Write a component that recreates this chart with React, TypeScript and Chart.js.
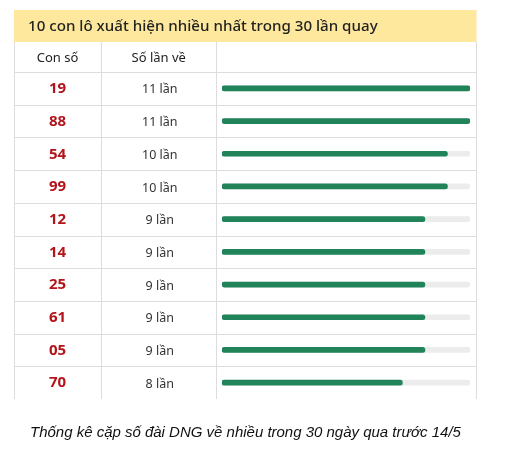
import React, { useEffect, useRef } from "react";
import { Chart, registerables } from "chart.js";

Chart.register(...registerables);

const numbers = ["19", "88", "54", "99", "12", "14", "25", "61", "05", "70"];
const counts = [11, 11, 10, 10, 9, 9, 9, 9, 9, 8];
const maxCount = 11;
const titleText = "10 con lô xuất hiện nhiều nhất trong 30 lần quay";
const colHeaders = ["Con số", "Số lần về"];
const unitText = "lần";
const captionText = "Thống kê cặp số đài DNG về nhiều trong 30 ngày qua trước 14/5";

const W = 508;
const H = 451;

function fitFont(ctx: CanvasRenderingContext2D, text: string, target: number, style: string, family: string, base: number) {
  ctx.font = `${style} ${base}px ${family}`;
  const w = ctx.measureText(text).width;
  const size = (base * target) / w;
  return `${style} ${size.toFixed(2)}px ${family}`;
}

const tablePlugin = {
  id: "tablePlugin",
  beforeDatasetsDraw(chart: any) {
    const { ctx, scales } = chart;
    const y = scales.y;
    const L = 14, R = 476.5, C1 = 101, C2 = 216.5;
    const headTop = 10, headBot = 42, hdrBot = 72;
    const area = chart.chartArea;
    const tableBot = area.bottom;
    ctx.save();
    // yellow title band
    ctx.fillStyle = "#fde89d";
    ctx.fillRect(L, headTop, R - L, headBot - headTop);
    ctx.fillStyle = "#222222";
    ctx.textBaseline = "middle";
    ctx.textAlign = "left";
    ctx.font = fitFont(ctx, titleText, 350, "500", "'Noto Sans'", 15);
    ctx.fillText(titleText, 28, 27);
    // grid
    ctx.strokeStyle = "#dddddd";
    ctx.lineWidth = 1;
    ctx.beginPath();
    [L + 0.5, C1 + 0.5, C2, R].forEach((x) => {
      ctx.moveTo(x, headBot);
      ctx.lineTo(x, tableBot);
    });
    ctx.moveTo(L, hdrBot + 0.5);
    ctx.lineTo(R, hdrBot + 0.5);
    const band = (tableBot - hdrBot) / numbers.length;
    for (let i = 1; i < numbers.length; i++) {
      const yy = Math.round(hdrBot + band * i) + 0.5;
      ctx.moveTo(L, yy);
      ctx.lineTo(R, yy);
    }
    ctx.stroke();
    // header row
    ctx.textAlign = "center";
    ctx.fillStyle = "#222222";
    ctx.font = "13px 'Noto Sans'";
    ctx.fillText(colHeaders[0], (L + C1) / 2, 58);
    ctx.fillText(colHeaders[1], (C1 + C2) / 2, 58);
    // rows
    numbers.forEach((n, i) => {
      const py = y.getPixelForValue(i) + 0.5;
      ctx.fillStyle = "#b3141b";
      ctx.font = "bold 15px 'Noto Sans'";
      ctx.fillText(n, (L + C1) / 2, py);
      ctx.fillStyle = "#333333";
      ctx.font = "12.5px 'Noto Sans'";
      ctx.fillText(`${counts[i]} ${unitText}`, (C1 + C2) / 2 + 1, py + 1);
    });
    // caption
    ctx.fillStyle = "#111111";
    ctx.textAlign = "left";
    ctx.font = fitFont(ctx, captionText, 431, "italic", "'Liberation Sans'", 15);
    ctx.fillText(captionText, 30, 433);
    ctx.restore();
  },
};

export default function App() {
  const ref = useRef<HTMLCanvasElement>(null);
  useEffect(() => {
    document.body.style.margin = "0";
    const canvas = ref.current!;
    const chart = new Chart(canvas, {
      type: "bar",
      data: {
        labels: numbers,
        datasets: [
          {
            data: counts,
            backgroundColor: "#20835a",
            barThickness: 5,
            borderRadius: 3,
            borderSkipped: false,
            grouped: false,
            order: 1,
          },
          {
            data: counts.map(() => maxCount),
            backgroundColor: "#ececec",
            barThickness: 5,
            borderRadius: 3,
            borderSkipped: false,
            grouped: false,
            order: 2,
          },
        ],
      },
      options: {
        indexAxis: "y",
        animation: false,
        responsive: false,
        devicePixelRatio: 1,
        layout: { padding: { left: 222, right: 38, top: 72, bottom: 52 } },
        plugins: { legend: { display: false }, tooltip: { enabled: false }, title: { display: false } },
        scales: {
          x: { display: false, min: 0, max: maxCount },
          y: { display: false, offset: true },
        },
      },
      plugins: [tablePlugin],
    } as any);
    return () => chart.destroy();
  }, []);
  return <canvas ref={ref} width={W} height={H} style={{ display: "block", width: W, height: H }} />;
}
